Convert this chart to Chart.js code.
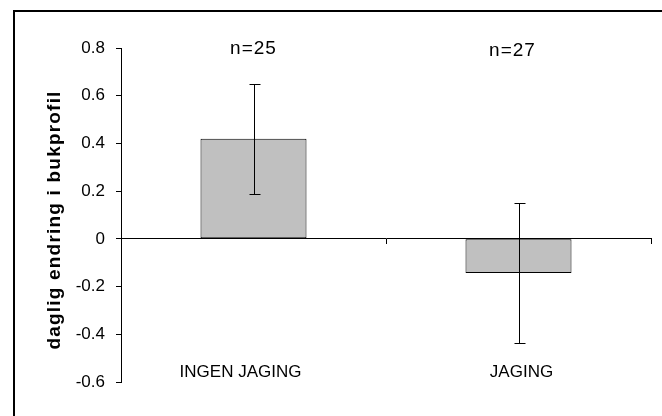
<!DOCTYPE html>
<html>
<head>
<meta charset="utf-8">
<script src="https://cdn.jsdelivr.net/npm/chart.js@4.4.1/dist/chart.umd.min.js"></script>
<style>
  html, body { margin: 0; padding: 0; background: #fff; }
  #wrap { position: relative; width: 662px; height: 416px; overflow: hidden; }
  /* chart frame: only the left and top edges fall inside the picture */
  #frame { position: absolute; left: 13px; top: 10px; width: 700px; height: 450px;
           border-left: 2px solid #000; border-top: 2px solid #000; }
  canvas { position: absolute; left: 0; top: 0; }
</style>
</head>
<body>
<div id="wrap">
  <div id="frame"></div>
  <canvas id="c" width="662" height="416"></canvas>
</div>
<script>
// data
var categories = ['INGEN JAGING', 'JAGING'];
var means = [0.42, -0.143];
var errors = [0.23, 0.294];
var sampleSizes = ['n=25', 'n=27'];
var yMin = -0.6, yMax = 0.8, yStep = 0.2;
var yTitle = 'daglig endring i bukprofil';

var FONT = '"Liberation Sans", Arial, sans-serif';

// error bars + free text (n=, category names, y title)
var extras = {
  id: 'extras',
  afterDatasetsDraw: function (chart) {
    var ctx = chart.ctx, x = chart.scales.x, y = chart.scales.y, area = chart.chartArea;
    ctx.save();
    ctx.strokeStyle = '#000';
    ctx.lineWidth = 1;
    means.forEach(function (m, i) {
      var cx = Math.round(x.getPixelForValue(i)) + 0.5;
      var top = Math.round(y.getPixelForValue(m + errors[i])) + 0.5;
      var bot = Math.round(y.getPixelForValue(m - errors[i])) + 0.5;
      ctx.beginPath();
      ctx.moveTo(cx, top); ctx.lineTo(cx, bot);
      ctx.moveTo(cx - 5, top); ctx.lineTo(cx + 6, top);
      ctx.moveTo(cx - 5, bot); ctx.lineTo(cx + 6, bot);
      ctx.stroke();
    });

    ctx.fillStyle = '#000';
    ctx.textAlign = 'center';
    ctx.textBaseline = 'middle';
    ctx.font = '19px ' + FONT;
    ctx.letterSpacing = '1px';
    sampleSizes.forEach(function (s, i) {
      ctx.fillText(s, x.getPixelForValue(i) - 6 * i, y.getPixelForValue(yMax) + 1 + 2 * i);
    });
    ctx.font = '17px ' + FONT;
    ctx.letterSpacing = '0px';
    categories.forEach(function (c, i) {
      ctx.fillText(c, x.getPixelForValue(i) - 13 + 16 * i, y.getPixelForValue(-0.56));
    });

    ctx.translate(55, (area.top + area.bottom) / 2 + 5);
    ctx.rotate(-Math.PI / 2);
    ctx.font = 'bold 19px ' + FONT;
    ctx.letterSpacing = '1.2px';
    ctx.fillText(yTitle, 0, 0);
    ctx.restore();
  }
};

new Chart(document.getElementById('c'), {
  type: 'bar',
  data: {
    labels: categories,
    datasets: [{
      data: means,
      backgroundColor: '#C0C0C0',
      borderColor: '#000',
      borderWidth: 1,
      borderSkipped: false,
      categoryPercentage: 1,
      barPercentage: 0.4
    }]
  },
  options: {
    responsive: false,
    animation: false,
    layout: { padding: { left: 0, right: 11, top: 48, bottom: 34 } },
    plugins: { legend: { display: false }, tooltip: { enabled: false } },
    scales: {
      x: {
        type: 'category',
        position: { y: 0 },
        offset: true,
        grid: { offset: true, drawOnChartArea: false, drawTicks: true, tickLength: 5, color: '#000' },
        border: { color: '#000', width: 1 },
        ticks: { display: false }
      },
      y: {
        min: yMin, max: yMax,
        afterFit: function (s) { s.width = 121; },
        grid: { drawOnChartArea: false, drawTicks: true, tickLength: 5, color: '#000' },
        border: { color: '#000', width: 1 },
        ticks: {
          stepSize: yStep,
          padding: 11,
          color: '#000',
          font: { family: FONT, size: 17 },
          callback: function (v) { return String(Number(v.toFixed(1))); }
        }
      }
    }
  },
  plugins: [extras]
});
</script>
</body>
</html>
